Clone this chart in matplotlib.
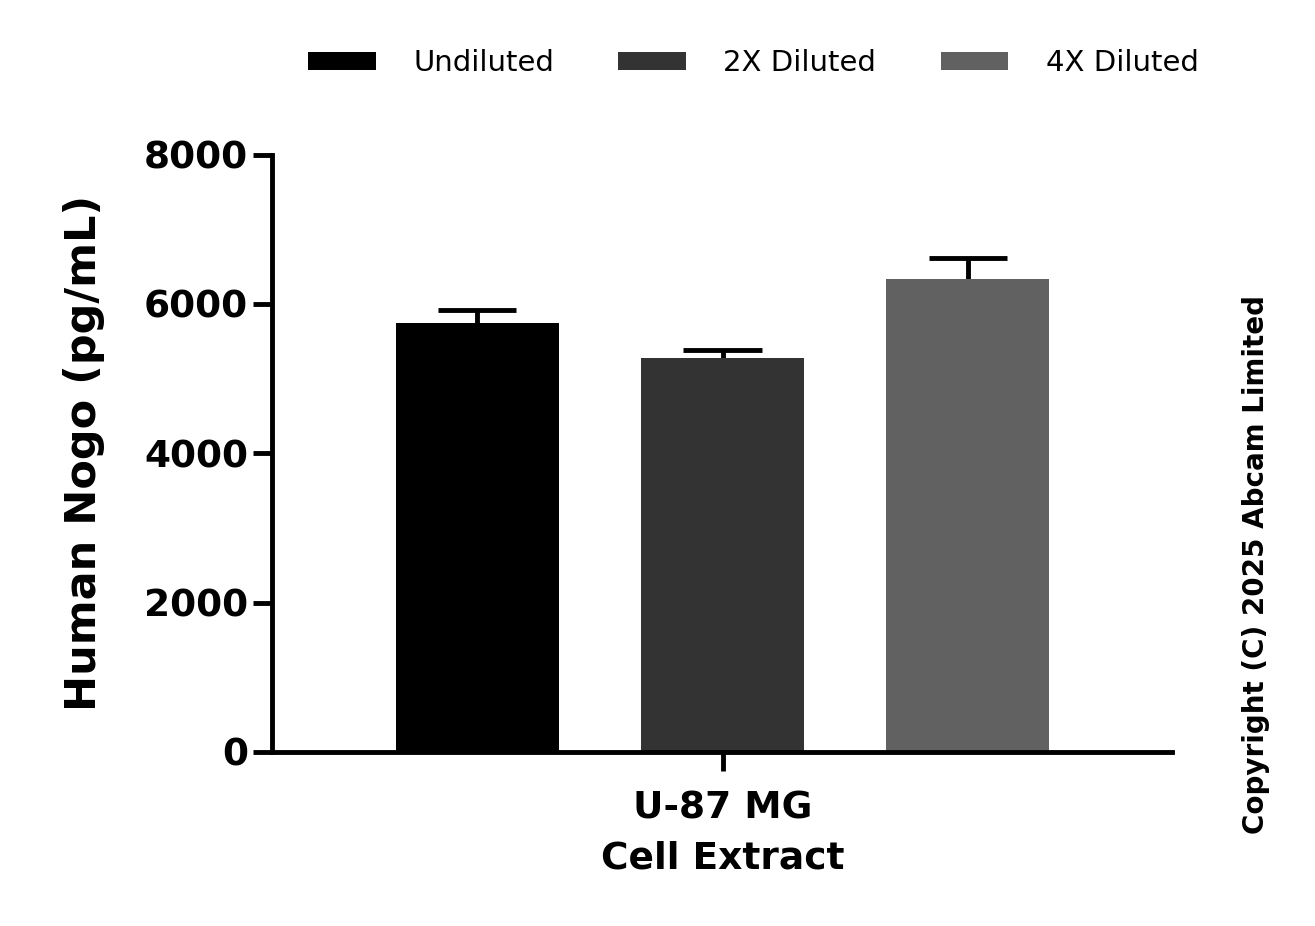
import matplotlib
matplotlib.use('Agg')
import matplotlib.pyplot as plt
import numpy as np

series = ['Undiluted', '2X Diluted', '4X Diluted']
means = [5750, 5270, 6340]
errors = [175, 120, 270]
colors = ['#000000', '#333333', '#616161']
yticks = [0, 2000, 4000, 6000, 8000]

fig = plt.figure(figsize=(13.15, 9.26), dpi=100)
ax = fig.add_axes([0.207, 0.188, 0.684, 0.645])

x = np.arange(len(series))
cap = 0.16
for i in range(len(series)):
    ax.bar(x[i], means[i], width=0.664, color=colors[i], label=series[i], zorder=2)
    top = means[i] + errors[i]
    ax.vlines(x[i], means[i], top, color='black', lw=3.5, zorder=1)
    ax.hlines(top, x[i] - cap, x[i] + cap, color='black', lw=3.5, zorder=1)

ax.set_xlim(-0.835, 2.83)
ax.set_ylim(0, 8000)
ax.set_yticks(yticks)
ax.set_yticklabels([str(t) for t in yticks], fontsize=27, fontweight='bold')
ax.set_xticks([1])
ax.set_xticklabels(['U-87 MG\nCell Extract'], fontsize=27, fontweight='bold', linespacing=1.5)
ax.tick_params(axis='both', width=3.5, length=14)
ax.tick_params(axis='x', pad=14)
ax.set_ylabel('Human Nogo (pg/mL)', fontsize=31, fontweight='bold', labelpad=28)
for s in ['top', 'right']:
    ax.spines[s].set_visible(False)
for s in ['left', 'bottom']:
    ax.spines[s].set_linewidth(3.5)

ax.legend(loc='upper center', bbox_to_anchor=(0.535, 1.22), ncol=3, frameon=False,
          fontsize=21, handlelength=2.3, handleheight=0.6, columnspacing=2.2, handletextpad=1.3)

fig.text(0.955, 0.39, 'Copyright (C) 2025 Abcam Limited', rotation=90, ha='center', va='center',
         fontsize=20, fontweight='bold')

fig.savefig('out.png', dpi=100)
